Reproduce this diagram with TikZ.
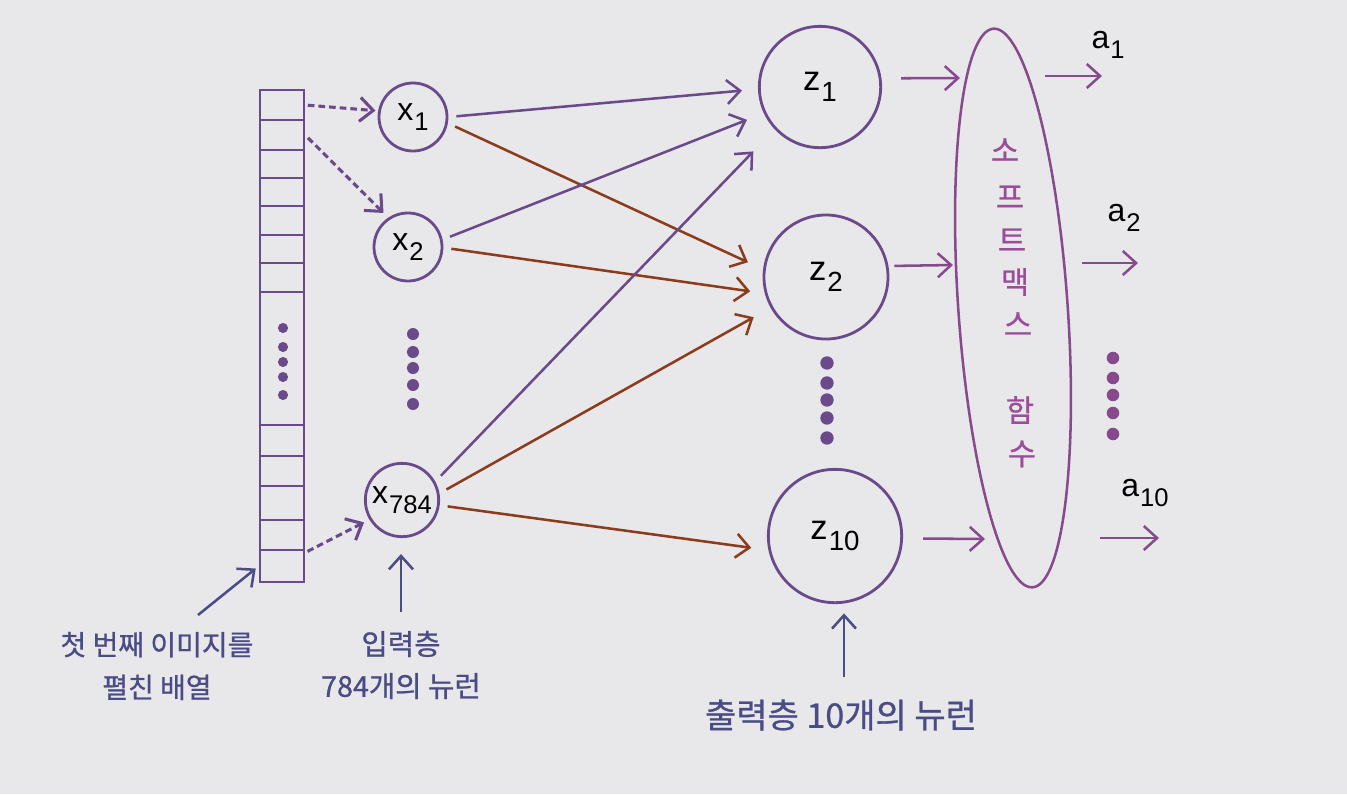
\documentclass[tikz,border=0pt]{standalone}
\usepackage{fontspec}
\setmainfont{Liberation Sans}
\newfontfamily\korfont[FakeBold=0.8]{Noto Sans CJK KR}
\usetikzlibrary{arrows.meta,shapes.geometric,calc}
\definecolor{pagebg}{HTML}{E8E8EA}
\definecolor{inkp}{HTML}{6A4A8A}
\definecolor{inkb}{HTML}{8C3B1C}
\definecolor{inkl}{HTML}{4B4B86}
\definecolor{inks}{HTML}{9A4E9A}
\definecolor{inke}{HTML}{874A8C}
\newcommand\idx[2]{#1\kern0.03em\raisebox{-0.3em}{\scalebox{0.8}{#2}}}
\begin{document}
\begin{tikzpicture}[x=0.75pt,y=-0.75pt,
  >={Straight Barb[length=10pt,width=18pt]},
  neuron/.style={circle,draw=inkp,line width=2.1pt,inner sep=0pt},
  xlab/.style={font=\fontsize{24}{24}\selectfont},
  zlab/.style={font=\fontsize{26}{26}\selectfont},
  alab/.style={font=\fontsize{24}{24}\selectfont,inner sep=0pt},
  cell/.style={rectangle,draw=inkp,line width=1.7pt,minimum width=33pt,inner sep=0pt},
  wp/.style={draw=inkp,line width=1.9pt,->,shorten <=6pt},
  wb/.style={draw=inkb,line width=1.9pt,->,shorten <=6pt},
  dsh/.style={draw=inkp,line width=2.3pt,dash pattern=on 5pt off 3pt,->},
  ap/.style={draw=inke,line width=1.9pt,->},
  la/.style={draw=inkl,line width=1.9pt,->},
  klab/.style={text=inkl,align=center,inner sep=0pt},
  stext/.style={text=inks,font=\korfont\fontsize{23}{23}\selectfont,inner sep=0pt},
  softbox/.style={ellipse,draw=inke,line width=1.9pt,inner sep=0pt}
]
\fill[pagebg] (0,0) rectangle (1347,794);
\useasboundingbox (0,0) rectangle (1347,794);

% flattened array
\foreach \t/\b [count=\i] in {90/120,120/150,150/178,178/206,206/235,235/263,263/292,292/425,425/456,456/486,486/520,520/550,550/582}{
  \pgfmathsetmacro\hh{(\b-\t)*0.75}
  \node[cell,minimum height=\hh pt] (c\i) at (282,{(\t+\b)/2}) {};
}
\foreach \y in {328,347,362,377,395} \fill[inkp] (283,\y) circle[radius=3.8pt];

% input neurons
\node[neuron,xlab,minimum size=51pt] (x1) at (413,117) {\idx{x}{1}};
\node[neuron,xlab,minimum size=51pt] (x2) at (408,247) {\idx{x}{2}};
\node[neuron,xlab,minimum size=55pt] (x784) at (402,500) {\idx{x}{784}};
\foreach \y in {334,352,368,385,404} \fill[inkp] (413,\y) circle[radius=4.5pt];

% output neurons
\node[neuron,zlab,minimum size=91pt] (z1) at (820,87) {\idx{z}{1}};
\node[neuron,zlab,minimum size=93pt] (z2) at (826,277) {\idx{z}{2}};
\node[neuron,zlab,minimum size=100pt] (z10) at (835,536) {\idx{z}{10}};
\foreach \y in {363,383,400,418,438} \fill[inkp] (827,\y) circle[radius=5pt];

% softmax
\node[softbox,minimum width=82pt,minimum height=420pt,rotate=4] (soft) at (1013,308) {};
\foreach \ch/\xx/\yy [count=\k] in {소/1005/150,프/1010/197,트/1012/240,맥/1015/282,스/1018/324,함/1020/410,수/1022/454}
  \node[stext] (k\k) at (\xx,\yy) {\ch};

% dashed arrows array -> inputs
\draw[dsh,shorten <=2pt,shorten >=2pt] (c1.east) -- (x1.170);
\draw[dsh,shorten <=3pt,shorten >=5pt] (c2.east) -- (x2.124);
\draw[dsh,shorten <=2pt,shorten >=4.5pt] (c13.30) -- (x784.211);

% weights
\draw[wp,shorten >=12pt] (x1.0) -- (z1.182);
\draw[wb,shorten >=12.5pt] (x1.-10) -- (z2.173);
\draw[wp,shorten >=13.5pt] (x2.12) -- (z1.205);
\draw[wb,shorten >=11pt] (x2.-1) -- (z2.195);
\draw[wp,shorten >=23pt] (x784.29) -- (z1.223);
\draw[wb,shorten >=14.5pt] (x784.10) -- (z2.209);
\draw[wb,shorten >=13pt] (x784.-8) -- (z10.192);

% z -> softmax
\coordinate (e1) at (960,78);
\coordinate (e2) at (953,265);
\coordinate (e3) at (985,539);
\draw[ap,shorten <=14.7pt] (z1.8) -- (e1);
\draw[ap,shorten <=4.5pt] (z2.10) -- (e2);
\draw[ap,shorten <=15pt] (z10.-2) -- (e3);

% softmax -> outputs
\coordinate (o1) at (1045,76);  \coordinate (q1) at (1102,76);
\coordinate (o2) at (1082,263); \coordinate (q2) at (1138,263);
\coordinate (o3) at (1100,538); \coordinate (q3) at (1159,538);
\draw[ap] (o1) -- (q1);
\draw[ap] (o2) -- (q2);
\draw[ap] (o3) -- (q3);
\node[alab] (a1) at (1108,45) {\idx{a}{1}};
\node[alab] (a2) at (1124,218) {\idx{a}{2}};
\node[alab] (a10) at (1145,493) {\idx{a}{10}};
\foreach \y in {358,378,395,413,434} \fill[inke] (1113,\y) circle[radius=4.7pt];

% labels
\node[klab,font=\korfont\fontsize{21}{32}\selectfont] (l1) at (157,666) {첫 번째 이미지를\\펼친 배열};
\node[klab,font=\korfont\fontsize{21.5}{31.5}\selectfont] (l2) at (401,665) {입력층\\784개의 뉴런};
\node[klab,font=\korfont\fontsize{25.5}{25.5}\selectfont] (l3) at (841,715) {출력층 10개의 뉴런};
\coordinate (t1) at (198,615);
\coordinate (t2) at (401,612);
\coordinate (t3) at (844,677);
\draw[la,shorten >=3pt] (t1) -- (c13.west);
\draw[la,shorten >=12pt] (t2) -- (t2 |- x784.south);
\draw[la,shorten >=7pt] (t3) -- (t3 |- z10.south);
\end{tikzpicture}
\end{document}
